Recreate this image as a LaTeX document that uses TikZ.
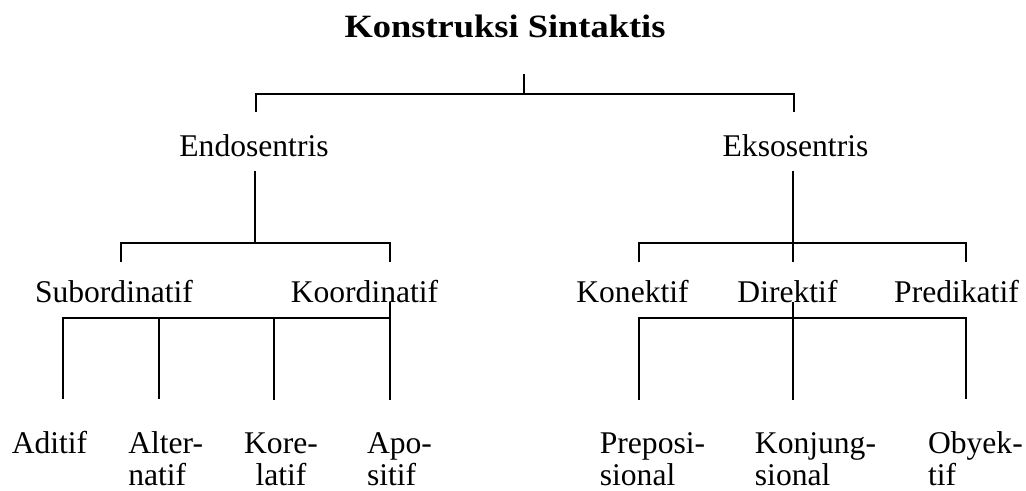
\documentclass[tikz,border=0pt]{standalone}
\usepackage{fontspec}
\setmainfont{Liberation Serif}
\begin{document}
\begin{tikzpicture}[x=0.75pt,y=-0.75pt,line width=1.3pt,
    head/.style={anchor=base,inner xsep=0pt,inner ysep=27pt,xscale=1.12,
        font=\fontsize{24.4pt}{28pt}\selectfont\bfseries},
    lvone/.style={anchor=base,inner xsep=0pt,inner ysep=10.5pt,text height=21.75pt,text depth=0pt,
        font=\fontsize{23.7pt}{24pt}\selectfont},
    lvtwo/.style={anchor=base,inner xsep=0pt,inner ysep=10.5pt,text height=18.75pt,text depth=0pt,
        font=\fontsize{23.7pt}{24pt}\selectfont},
    lvthree/.style={anchor=base,inner xsep=0pt,inner ysep=23.25pt,align=left,
        font=\fontsize{23.7pt}{24pt}\selectfont}]
        \useasboundingbox (0,0) rectangle (1026,490);
        \node [head] (root) at (505,37) {Konstruksi Sintaktis};
        \node [lvone] (endo) at (254,156) {Endosentris};
        \node [lvone] (ekso) at (795.5,156) {Eksosentris};
        \node [lvtwo] (sub) at (114,302) {Subordinatif};
        \node [lvtwo] (koor) at (364.5,302) {Koordinatif};
        \node [lvtwo] (kon) at (632.5,302) {Konektif};
        \node [lvtwo] (dir) at (787.5,302) {Direktif};
        \node [lvtwo] (pred) at (956.5,302) {Predikatif};
        \node [lvthree] (adit) at (49.5,453) {Aditif};
        \node [lvthree] (alter) at (165.7,485) {Alter-\\natif};
        \node [lvthree,align=center] (kore) at (281,485) {Kore-\\latif};
        \node [lvthree] (apo) at (399.5,485) {Apo-\\sitif};
        \node [lvthree] (prep) at (652.5,485) {Preposi-\\sional};
        \node [lvthree] (konj) at (815.5,485) {Konjung-\\sional};
        \node [lvthree] (oby) at (975.4,485) {Obyek-\\tif};
        % bar points
        \coordinate (j0) at (524,94);
        \coordinate (endo-t) at (256,94);
        \coordinate (ekso-t) at (794,94);
        \coordinate (j1) at (255,243);
        \coordinate (sub-t) at (121,243);
        \coordinate (koor-t) at (390,243);
        \coordinate (j2) at (793,243);
        \coordinate (kon-t) at (639,243);
        \coordinate (pred-t) at (966,243);
        \coordinate (j3) at (390,318);
        \coordinate (adit-t) at (63,318);
        \coordinate (alter-t) at (159,318);
        \coordinate (kore-t) at (274,318);
        \coordinate (j4) at (793,318);
        \coordinate (prep-t) at (639,318);
        \coordinate (oby-t) at (966,318);
        % top
        \draw (j0 |- root.south) -- (j0);
        \draw (endo-t |- endo.north) -- (endo-t) -- (ekso-t) -- (ekso-t |- ekso.north);
        % endosentris
        \draw (j1 |- endo.south) -- (j1);
        \draw (sub-t |- sub.north) -- (sub-t) -- (koor-t) -- (koor-t |- koor.north);
        \draw (j3 |- koor.base) -- (j3);
        \draw (adit-t |- adit.north) -- (adit-t) -- (j3) -- (j3 |- apo.north);
        \draw (alter-t) -- (alter-t |- alter.north);
        \draw (kore-t) -- (kore-t |- kore.north);
        % eksosentris
        \draw (j2 |- ekso.south) -- (j2) -- (j2 |- dir.north);
        \draw (kon-t |- kon.north) -- (kon-t) -- (pred-t) -- (pred-t |- pred.north);
        \draw (j4 |- dir.base) -- (j4) -- (j4 |- konj.north);
        \draw (prep-t |- prep.north) -- (prep-t) -- (oby-t) -- (oby-t |- oby.north);
\end{tikzpicture}
\end{document}
